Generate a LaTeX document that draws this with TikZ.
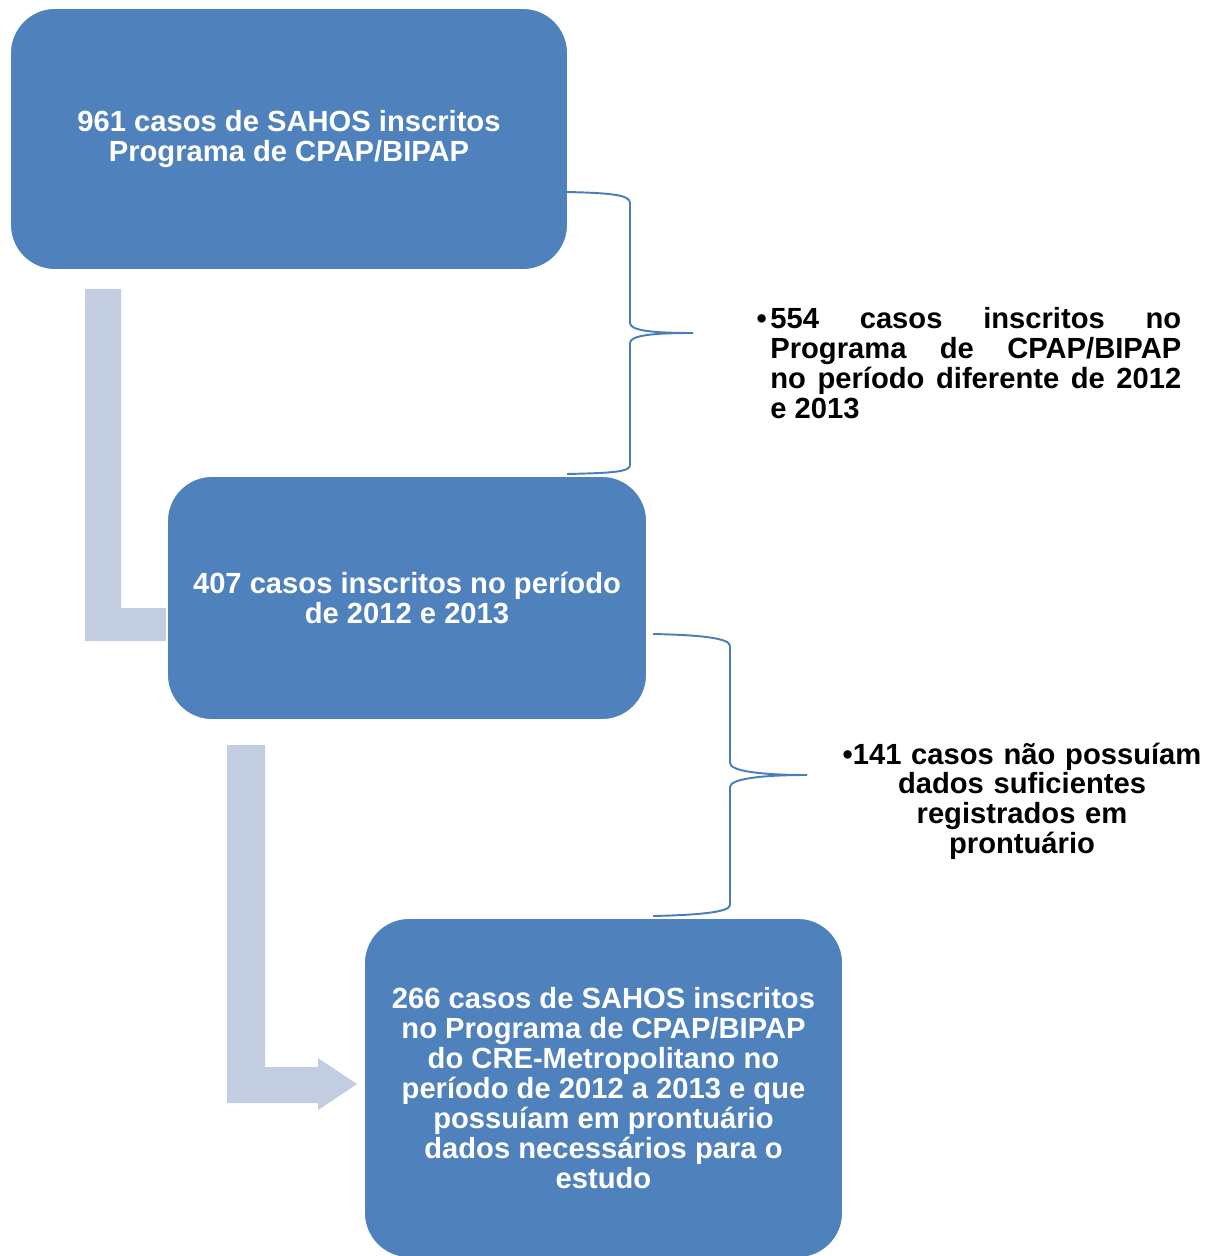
\documentclass[tikz,border=0pt]{standalone}
\usepackage{fontspec}
\setmainfont{Liberation Sans}
\usetikzlibrary{positioning}
\usetikzlibrary{backgrounds}
\definecolor{caixa}{HTML}{4F81BD}
\definecolor{seta}{HTML}{C3CDE1}
\definecolor{chave}{HTML}{4A7EBB}

\begin{document}
\begin{tikzpicture}[x=0.02cm, y=-0.02cm,
  etapa/.style={rectangle, rounded corners=0.9cm, fill=caixa, draw=white, line width=1pt,
    text=white, align=center, inner sep=0pt, font=\bfseries\fontsize{16.6}{17}\selectfont},
  nota/.style={inner sep=0pt, font=\bfseries\fontsize{16.6}{17}\selectfont},
  chave/.style={draw=chave, line width=1.1pt}]
\useasboundingbox (0,0) rectangle (1215,1256);

\node[etapa, minimum width=11.16cm, minimum height=5.24cm] (n961) at (289,139)
  {961 casos de SAHOS inscritos\\Programa de CPAP/BIPAP};
\node[etapa, minimum width=9.6cm, minimum height=4.88cm] (n407) at (407,598)
  {407 casos inscritos no período\\de 2012 e 2013};
\node[etapa, minimum width=9.58cm, minimum height=6.8cm] (n266) at (603.5,1088)
  {266 casos de SAHOS inscritos\\no Programa de CPAP/BIPAP\\do CRE-Metropolitano no\\período de 2012 a 2013 e que\\possuíam em prontuário\\dados necessários para o\\estudo};

% setas dobradas atras das caixas
\begin{scope}[on background layer]
\fill[seta] (85,289) -- (121,289) -- (121,608) -- (180,608) -- (180,641) -- (85,641) -- cycle;
\fill[seta] (227,745) -- (265,745) -- (265,1067) -- (318,1067) -- (318,1058) -- (357,1084)
  -- (318,1110) -- (318,1103) -- (227,1103) -- cycle;
\end{scope}

% chaves
\draw[chave] (567,192) .. controls (612,193) and (630,195) .. (630,203) -- (630,323)
  .. controls (630,331) and (655,333) .. (693,333)
  .. controls (655,333) and (630,335) .. (630,343) -- (630,465)
  .. controls (630,472) and (612,473) .. (567,474);
\draw[chave] (653,634) .. controls (700,635) and (730,638) .. (730,646) -- (730,763)
  .. controls (730,771) and (760,775) .. (807,775)
  .. controls (760,775) and (730,779) .. (730,787) -- (730,905)
  .. controls (730,912) and (700,915) .. (653,916);

\node[nota, text width=8.22cm, align=justify, anchor=base west] (n554) at (770,329)
  {\llap{•\hspace{2pt}}554 casos inscritos no\linebreak Programa de CPAP/BIPAP\linebreak no período diferente de 2012\linebreak e 2013};
\node[nota, text width=7.4cm, align=center, anchor=base] (n141) at (1022,764)
  {•141 casos não possuíam\\dados suficientes\\registrados em\\prontuário};

\end{tikzpicture}
\end{document}
